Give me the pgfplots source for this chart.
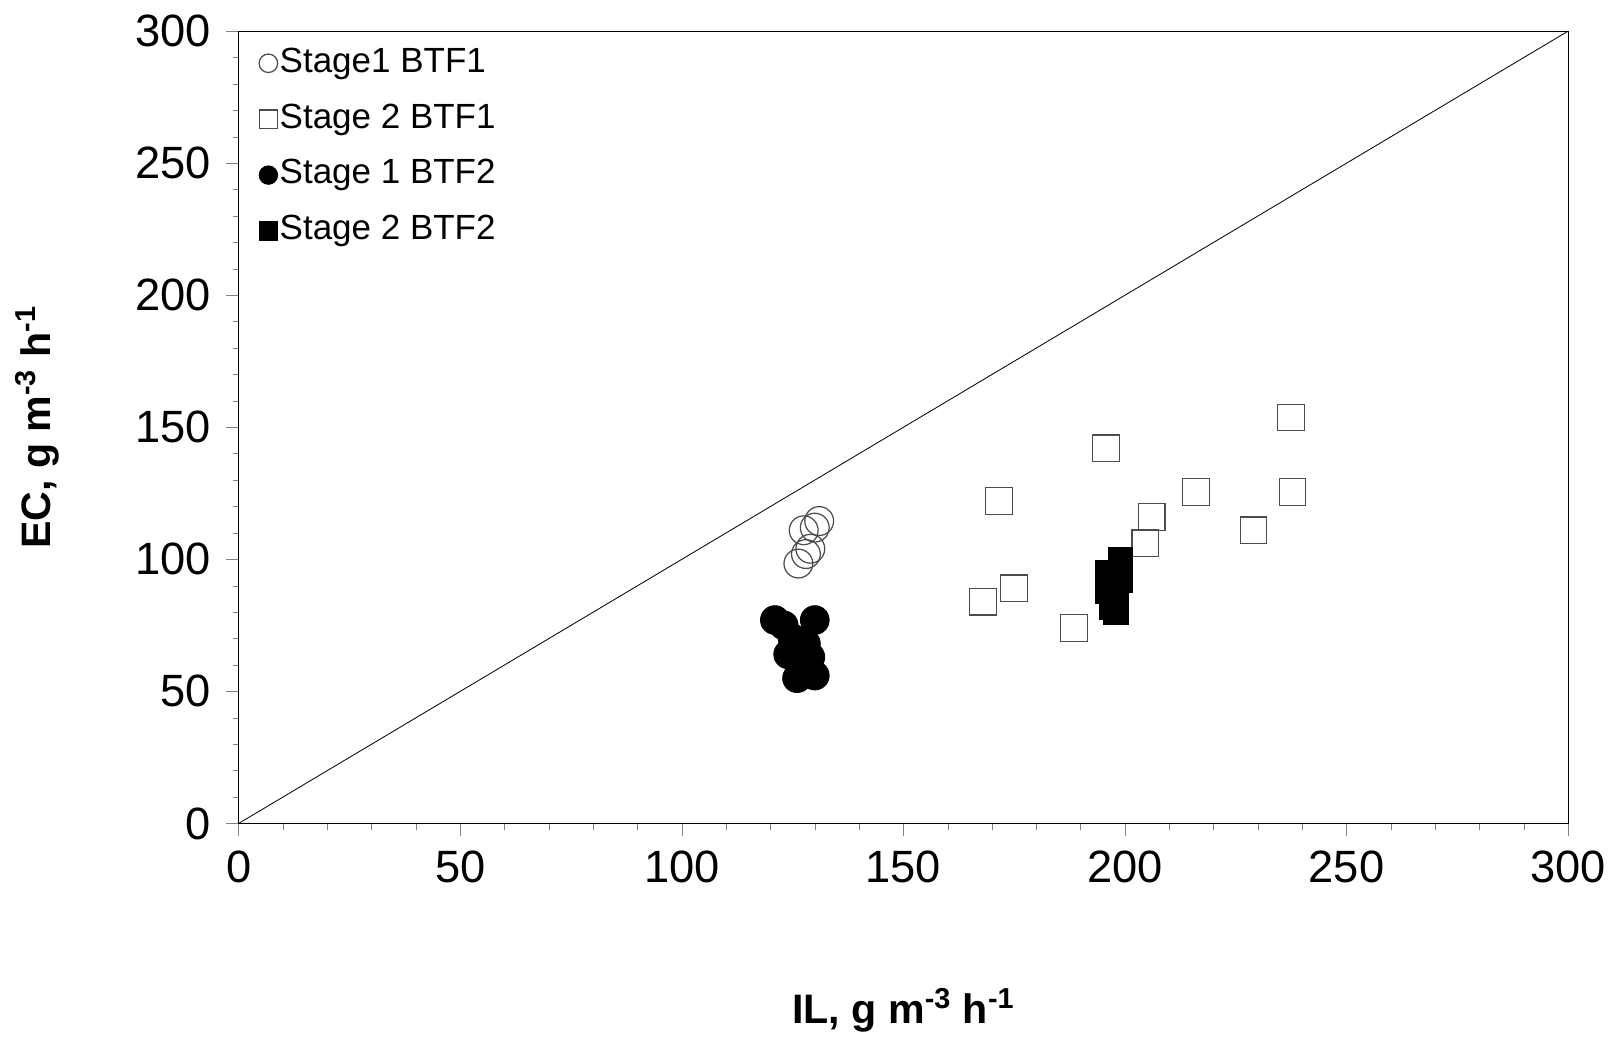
\documentclass[border=0pt]{standalone}
\usepackage{pgfplots}
\pgfplotsset{compat=1.18}
\usepackage{fontspec}
\setmainfont{Liberation Sans}
\begin{document}
\fontsize{22}{26}\selectfont
\begin{tikzpicture}
\begin{axis}[
  scale only axis, width=646pt, height=385pt,
  xmin=0,xmax=300,ymin=0,ymax=300,
  xtick={0,50,...,300}, ytick={0,50,...,300},
  minor x tick num=4, minor y tick num=4,
  tick align=outside, tick pos=left,
  major tick length=6pt, minor tick length=3pt,
  /pgf/number format/assume math mode=true,
  ticklabel style={font=\fontsize{22}{26}\selectfont},
  xlabel={\textbf{IL, g m\textsuperscript{-3} h\textsuperscript{-1}}},
  ylabel={\textbf{EC, g m\textsuperscript{-3} h\textsuperscript{-1}}},
  label style={font=\fontsize{20}{24}\selectfont},
  xlabel style={yshift=-36pt}, ylabel style={yshift=22pt},
  legend style={draw=none, at={(0.012,0.99)}, anchor=north west, font=\fontsize{17}{20}\selectfont, row sep=8pt, fill=none, inner xsep=2pt, nodes={inner xsep=1pt}},
  legend cell align=left, legend image post style={mark size=4.5pt},
  legend image code/.code={\draw[#1] plot coordinates {(0.1cm,0cm)};},
]
\addplot[only marks, mark=o, mark size=7pt, gray!60!black, semithick, mark options={fill=white}] coordinates {
(131,114.5)(127.5,111)(129,104)(126.3,98.4)(128,102)(130,112)};
\addlegendentry{Stage1 BTF1}
\addplot[only marks, mark=square, mark size=6.5pt, gray!60!black, semithick, mark options={fill=white}] coordinates {
(168,84)(175,89)(171.6,122)(188.5,74)(195.7,142)(204.6,106)(206,116)(216,125.5)(229,111)(237.5,153.7)(237.8,125.5)};
\addlegendentry{Stage 2 BTF1}
\addplot[only marks, mark=*, mark size=7pt, black] coordinates {
(121,77)(130,77)(125,70)(128,68)(124,64)(129,63)(126,55)(130,56)(127,60)(123,75)};
\addlegendentry{Stage 1 BTF2}
\addplot[only marks, mark=square*, mark size=6pt, black] coordinates {
(196,95)(197,90)(198,85)(199,100)(198,80)(199,92)(197,82)(196,88)(199,96)};
\addlegendentry{Stage 2 BTF2}
\addplot[black, thin, forget plot] coordinates {(0,0)(300,300)};
\end{axis}
\end{tikzpicture}
\end{document}
